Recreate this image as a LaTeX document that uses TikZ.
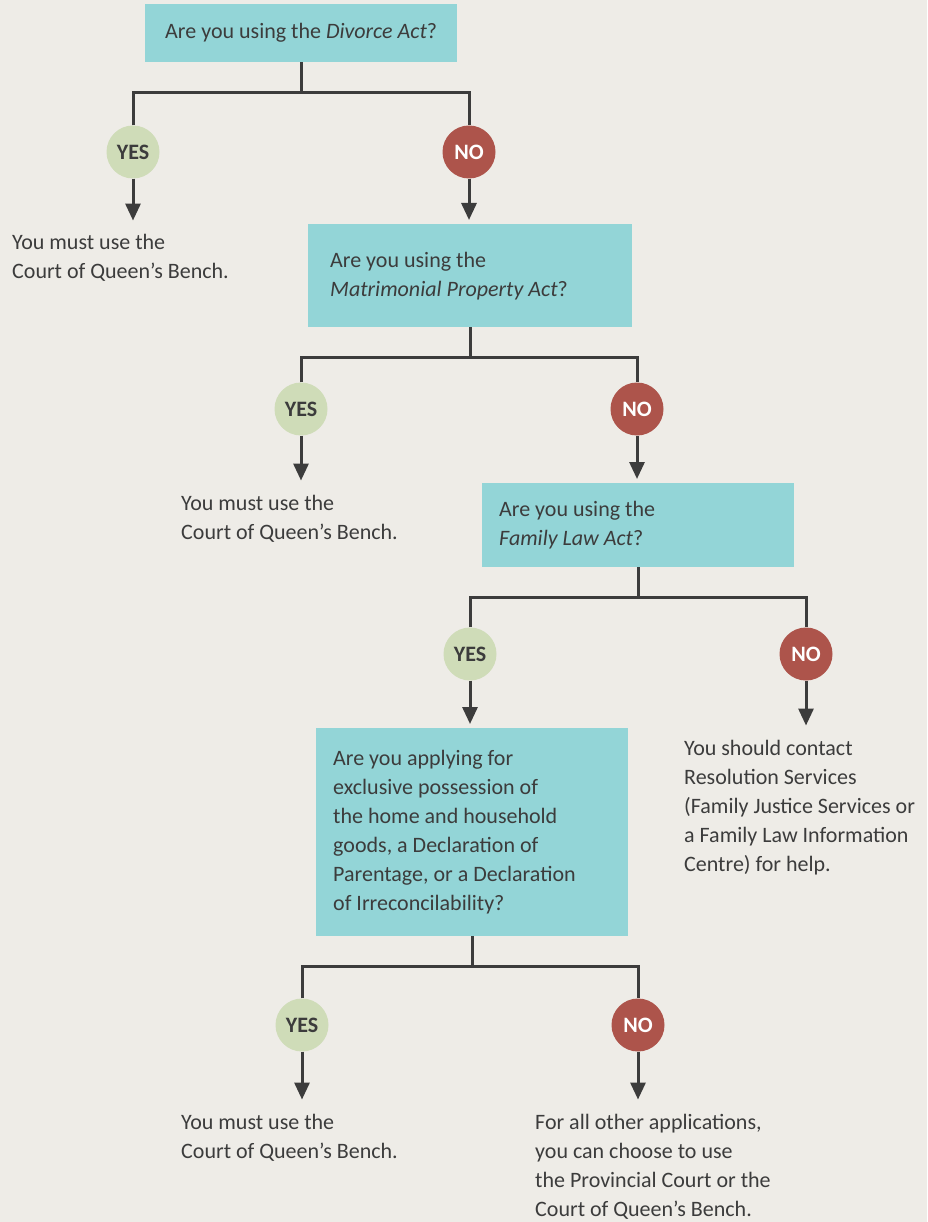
\documentclass[tikz,border=0pt]{standalone}
\usepackage{fontspec}
\setmainfont{Carlito}
\usetikzlibrary{arrows.meta}

\definecolor{paper}{HTML}{EEECE7}
\definecolor{boxcol}{HTML}{93D5D7}
\definecolor{yescol}{HTML}{CFDCB8}
\definecolor{nocol}{HTML}{AD544B}
\definecolor{inkcol}{HTML}{3C3C3C}

\tikzset{
  qbox/.style={fill=boxcol, anchor=north west, align=flush left, inner xsep=17pt,
    inner ysep=0pt, text=inkcol, font=\fontsize{22}{29}\selectfont},
  dot/.style={circle, minimum size=53pt, inner sep=0pt,
    font=\bfseries\fontsize{22}{22}\selectfont},
  yesdot/.style={dot, fill=yescol, text=inkcol},
  nodot/.style={dot, fill=nocol, text=white},
  % placed at the baseline of the last line
  answer/.style={anchor=base west, align=left, inner sep=0pt, text=inkcol,
    font=\fontsize{22}{29}\selectfont},
  link/.style={draw=inkcol, line width=3pt},
  arrowlink/.style={link, -{Triangle[width=15pt,length=17pt]}, shorten >=14pt},
  boxarrow/.style={arrowlink, shorten >=4pt},
}

\begin{document}
\begin{tikzpicture}[x=1pt,y=-1pt]
  \fill[paper] (0,0) rectangle (927,1222);

  % questions
  \node[qbox, align=flush center, inner xsep=4pt, text width=304pt, minimum width=312pt, minimum height=58pt]
    (q1) at (145,4) {Are you using the \textit{Divorce Act}?};
  \node[qbox, inner xsep=22pt, text width=280pt, minimum width=324pt, minimum height=103pt]
    (q2) at (308,224) {Are you using the\\\textit{Matrimonial Property Act}?};
  \node[qbox, text width=278pt, minimum width=312pt, minimum height=84pt]
    (q3) at (482,483) {Are you using the\\\textit{Family Law Act}?};
  \node[qbox, text width=278pt, minimum width=312pt, minimum height=208pt]
    (q4) at (316,728) {Are you applying for\\exclusive possession of\\the home and household\\goods, a Declaration of\\Parentage, or a Declaration\\of Irreconcilability?};

  % yes / no dots
  \foreach \n/\x/\y in {y1/133/152, y2/301/409, y3/470/654, y4/302/1025}
    \node[yesdot] (\n) at (\x,\y) {YES};
  \foreach \n/\x/\y in {n1/469/152, n2/637/409, n3/806/654, n4/638/1025}
    \node[nodot] (\n) at (\x,\y) {NO};

  % answers
  \node[answer] (a1) at (12,279) {You must use the\\Court of Queen’s Bench.};
  \node[answer] (a2) at (181,539) {You must use the\\Court of Queen’s Bench.};
  \node[answer] (a3) at (684,871) {You should contact\\Resolution Services\\(Family Justice Services or\\a Family Law Information\\Centre) for help.};
  \node[answer] (a4) at (181,1158) {You must use the\\Court of Queen’s Bench.};
  \node[answer] (a5) at (535,1216) {For all other applications,\\you can choose to use\\the Provincial Court or the\\Court of Queen’s Bench.};

  % splits
  \foreach \i in {1,2,3,4} {
    \coordinate (j\i) at ([yshift=-30pt]q\i.south);
    \draw[link] (q\i.south) -- (j\i);
    \draw[link] (y\i) |- (j\i) -| (n\i);
  }

  % arrows
  \draw[arrowlink] (y1) -- (y1 |- a1.north);
  \draw[boxarrow] (n1) -- (n1 |- q2.north);
  \draw[arrowlink] (y2) -- (y2 |- a2.north);
  \draw[boxarrow] (n2) -- (n2 |- q3.north);
  \draw[boxarrow] (y3) -- (y3 |- q4.north);
  \draw[arrowlink] (n3) -- (n3 |- a3.north);
  \draw[arrowlink] (y4) -- (y4 |- a4.north);
  \draw[arrowlink] (n4) -- (n4 |- a5.north);
\end{tikzpicture}
\end{document}
